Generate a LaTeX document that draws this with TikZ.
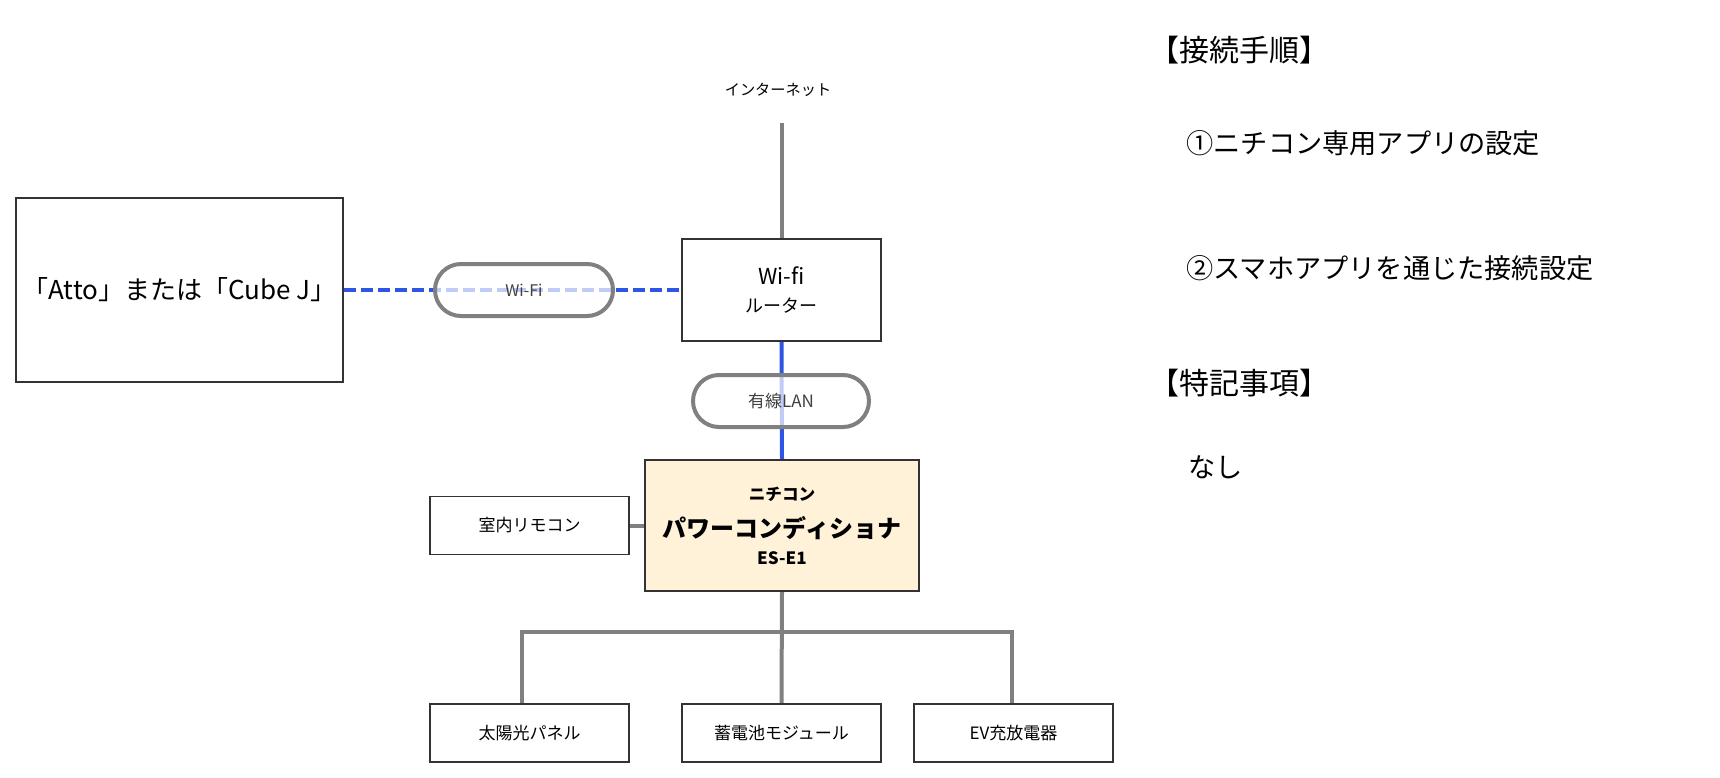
\documentclass[tikz,border=0pt]{standalone}
\usepackage{fontspec}
\setmainfont{Noto Sans CJK JP}
\usetikzlibrary{backgrounds}
\definecolor{gline}{HTML}{808080}
\definecolor{bline}{HTML}{2F55E4}
\definecolor{bord}{HTML}{333333}
\definecolor{pcsfill}{HTML}{FFF2D9}
\definecolor{pilltext}{HTML}{404040}
\begin{document}
\begin{tikzpicture}[x=0.5pt,y=-0.5pt,
  plainbox/.style={draw=bord,line width=0.9pt,fill=white,inner sep=0pt,align=center,text=black},
  smallbox/.style={plainbox,minimum width=99.5pt,minimum height=29pt,font=\fontsize{8.5}{10}\selectfont},
  pillbox/.style={draw=gline,line width=2pt,fill=white,fill opacity=0.7,draw opacity=1,text opacity=1,rounded corners=13pt,minimum height=26pt,inner sep=0pt,text=pilltext},
  grayconn/.style={draw=gline,line width=2pt},
  wifiline/.style={draw=bline,line width=2pt,dash pattern=on 6pt off 2.5pt},
  lanline/.style={draw=bline,line width=2pt},
  plaintext/.style={inner sep=0pt,text=black},
  headtext/.style={plaintext,anchor=west,font=\fontsize{15}{18}\selectfont},
  sidetext/.style={plaintext,anchor=west,font=\fontsize{13.6}{16}\selectfont}
]
\path[use as bounding box] (0,0) rectangle (1720,777);

% main boxes
\node[plainbox,minimum width=163.5pt,minimum height=92pt,font=\fontsize{13}{16}\selectfont] (atto) at (179.5,290) {「Atto」または「Cube J」};
\node[plainbox,minimum width=99.5pt,minimum height=51pt,font=\fontsize{9}{14}\selectfont] (router) at (781.5,290) {{\fontsize{11}{14}\selectfont Wi-fi}\\ルーター};
\node[plainbox,fill=pcsfill,minimum width=137pt,minimum height=65.5pt] (pcs) at (782,525.5) {};
\node[plaintext,font=\fontsize{8.3}{10}\selectfont\bfseries] (pcsmaker) at (782,494) {ニチコン};
\node[plaintext,font=\fontsize{12}{14}\selectfont\bfseries] (pcsname) at (782,528) {パワーコンディショナ};
\node[plaintext,font=\fontsize{8.5}{10}\selectfont\bfseries] (pcsmodel) at (782,558) {ES-E1};
\node[smallbox] (remote) at (529.5,525.5) {室内リモコン};
\node[smallbox] (sol) at (529.5,733) {太陽光パネル};
\node[smallbox] (bat) at (781.5,733) {蓄電池モジュール};
\node[smallbox] (ev) at (1013.5,733) {EV充放電器};

\node[plaintext,font=\fontsize{7.6}{9}\selectfont] (inet) at (778,90) {インターネット};
\coordinate (inetend) at (781.5,123);
\coordinate (busL) at (522,632);
\coordinate (busR) at (1012,632);

% pills
\node[pillbox,minimum width=89pt,font=\fontsize{8}{9}\selectfont] (wifipill) at (524,290) {Wi-Fi};
\node[pillbox,minimum width=88pt,font=\fontsize{8.5}{10}\selectfont] (lanpill) at (781,401) {有線LAN};

% connectors
\begin{scope}[on background layer]
\draw[wifiline] (atto.east) -- (router.west);
\draw[lanline] (router.south) -- (pcs.north);
\draw[grayconn] (router.north) -- (inetend);
\draw[grayconn] (remote.east) -- (pcs.west);
\draw[grayconn] (pcs.south) -- (bat.north);
\draw[grayconn] (sol.north -| busL) -- (busL) -- (busR) -- (ev.north -| busR);
\end{scope}

% side notes
\node[headtext] (h1) at (1149,50) {【接続手順】};
\node[sidetext] (s1) at (1186,143) {①ニチコン専用アプリの設定};
\node[sidetext] (s2) at (1186,268) {②スマホアプリを通じた接続設定};
\node[headtext] (h2) at (1149,383) {【特記事項】};
\node[sidetext] (s3) at (1188,467) {なし};
\end{tikzpicture}
\end{document}
